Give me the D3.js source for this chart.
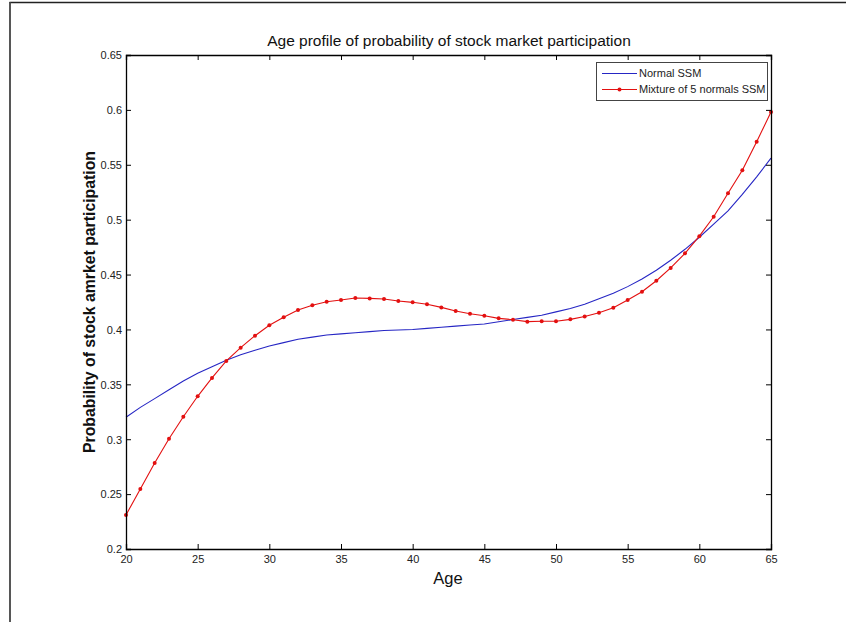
<!DOCTYPE html>
<html>
<head>
<meta charset="utf-8">
<script src="https://cdn.jsdelivr.net/npm/d3@7"></script>
<style>
html,body{margin:0;padding:0;background:#fff;}
svg{display:block;}
text{font-family:"Liberation Sans",Arial,Helvetica,sans-serif;}
</style>
</head>
<body>
<svg id="chart" width="846" height="622"></svg>
<script>
const ages = d3.range(20, 66);
const normalSSM = [0.320,0.329,0.337,0.345,0.353,0.360,0.366,0.372,0.377,0.381,
  0.385,0.388,0.391,0.393,0.395,0.396,0.397,0.398,0.399,0.3995,
  0.400,0.401,0.402,0.403,0.404,0.405,0.407,0.409,0.411,0.413,
  0.416,0.419,0.423,0.428,0.433,0.439,0.446,0.454,0.463,0.473,
  0.484,0.496,0.508,0.523,0.539,0.556];
const mixtureSSM = [0.231,0.2547,0.2783,0.3005,0.3205,0.3391,0.3558,0.3713,0.3834,0.3943,
  0.4038,0.4111,0.4177,0.422,0.4253,0.4268,0.4286,0.4283,0.4277,0.4259,
  0.4247,0.4229,0.4201,0.4168,0.4143,0.4125,0.4101,0.4089,0.4071,0.4074,
  0.4074,0.4092,0.4118,0.4152,0.4198,0.4268,0.4344,0.4444,0.456,0.4693,
  0.485,0.5027,0.524,0.545,0.571,0.598];
const xTicks = [20,25,30,35,40,45,50,55,60,65];
const yTicks = [0.2,0.25,0.3,0.35,0.4,0.45,0.5,0.55,0.6,0.65];
const seriesNames = ["Normal SSM","Mixture of 5 normals SSM"];
const titleText = "Age profile of probability of stock market participation";
const xLabelText = "Age";
const yLabelText = "Probability of stock amrket participation";

const svg = d3.select("#chart");
const L = 126, R = 771, T = 55, B = 549;
const x = d3.scaleLinear().domain([20,65]).range([L,R]);
const y = d3.scaleLinear().domain([0.2,0.65]).range([B,T]);

// outer frame
svg.append("line").attr("x1",9.5).attr("x2",846).attr("y1",2.5).attr("y2",2.5).attr("stroke","#222").attr("stroke-width",1.5);
svg.append("line").attr("x1",10).attr("x2",10).attr("y1",2).attr("y2",622).attr("stroke","#444").attr("stroke-width",1.8);

const blue = "#2626c4", red = "#e31010";

// lines
const lineGen = d3.line().x((d,i)=>x(ages[i])).y(d=>y(d));
svg.append("path").datum(normalSSM).attr("d",lineGen).attr("fill","none").attr("stroke",blue).attr("stroke-width",1.1);
svg.append("path").datum(mixtureSSM).attr("d",lineGen).attr("fill","none").attr("stroke",red).attr("stroke-width",1.1);
svg.append("g").selectAll("circle").data(mixtureSSM).join("circle")
  .attr("cx",(d,i)=>x(ages[i])).attr("cy",d=>y(d)).attr("r",2).attr("fill",red);

// axes
const fmt = d => String(+d.toFixed(2));
const gB = svg.append("g").attr("transform",`translate(0,${B})`)
  .call(d3.axisBottom(x).tickValues(xTicks).tickSize(-5).tickPadding(4).tickFormat(fmt));
const gT = svg.append("g").attr("transform",`translate(0,${T})`)
  .call(d3.axisTop(x).tickValues(xTicks).tickSize(-5).tickFormat(""));
const gL = svg.append("g").attr("transform",`translate(${L},0)`)
  .call(d3.axisLeft(y).tickValues(yTicks).tickSize(-5).tickPadding(4).tickFormat(fmt));
const gR = svg.append("g").attr("transform",`translate(${R},0)`)
  .call(d3.axisRight(y).tickValues(yTicks).tickSize(-5).tickFormat(""));
[gB,gT,gL,gR].forEach(g=>{
  g.select(".domain").attr("stroke","#000").attr("stroke-width",1.3);
  g.selectAll(".tick line").attr("stroke","#000");
  g.selectAll(".tick text").attr("fill","#222").style("font-size","11px").style("font-family","'Liberation Sans',Arial,sans-serif");
});
gB.selectAll(".tick text").attr("dy","0.9em");
gL.selectAll(".tick text").attr("dy","0.35em");

// title & labels
svg.append("text").attr("x",449).attr("y",46).attr("text-anchor","middle").style("font-size","15.5px").attr("fill","#111").text(titleText);
svg.append("text").attr("x",448).attr("y",584).attr("text-anchor","middle").style("font-size","16.5px").attr("fill","#111").text(xLabelText);
svg.append("text").attr("transform",`translate(95,${(T+B)/2}) rotate(-90)`).attr("text-anchor","middle")
  .style("font-size","15.8px").style("font-weight","bold").attr("fill","#111").text(yLabelText);

// legend
const lg = svg.append("g");
lg.append("rect").attr("x",596.5).attr("y",62.5).attr("width",171).attr("height",38).attr("fill","#fff").attr("stroke","#444").attr("stroke-width",1);
const colors = [blue, red];
seriesNames.forEach((n,i)=>{
  const yy = 73.5 + i*16;
  lg.append("line").attr("x1",602).attr("x2",637).attr("y1",yy).attr("y2",yy).attr("stroke",colors[i]).attr("stroke-width",1.1);
  if(i===1) lg.append("circle").attr("cx",619.5).attr("cy",yy).attr("r",2).attr("fill",red);
  lg.append("text").attr("x",639).attr("y",yy).attr("dy","0.35em").style("font-size","11px").attr("fill","#222").text(n);
});
</script>
</body>
</html>
